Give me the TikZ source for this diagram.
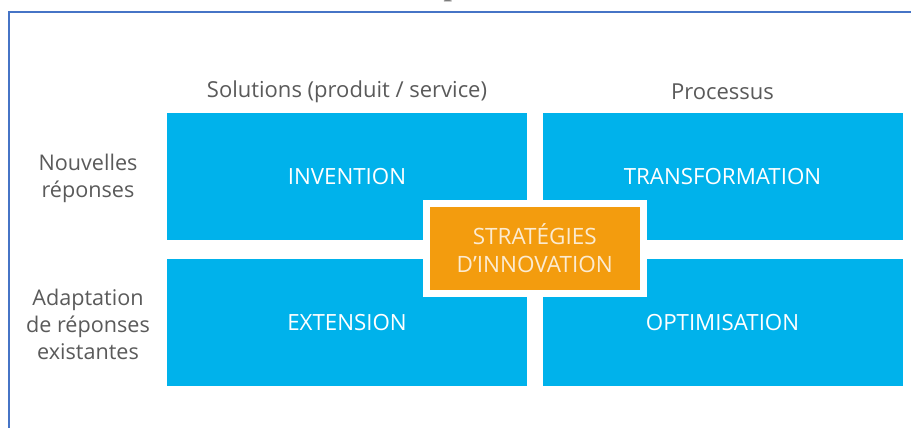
\documentclass[tikz,border=0pt]{standalone}
\usepackage{fontspec}
\setmainfont{Open Sans}
\newfontfamily\titlefont{Liberation Serif}
\definecolor{cellblue}{HTML}{00B2EB}
\definecolor{stratorange}{HTML}{F39C0E}
\definecolor{labelgray}{HTML}{5A5A5A}
\definecolor{framebl}{HTML}{4674C6}
\definecolor{ortext}{HTML}{FCEBD0}
\begin{document}
\begin{tikzpicture}[x=1pt,y=-1pt,
  cell/.style={fill=cellblue, draw=none, minimum width=360pt, minimum height=127pt,
    inner sep=0pt, text=white, font=\fontsize{22.3}{26}\selectfont, text depth=-2pt},
  strat/.style={fill=stratorange, draw=white, line width=7pt, minimum width=217.5pt,
    minimum height=90pt, inner sep=0pt, text=ortext, align=center,
    font=\fontsize{22.5}{28}\selectfont},
  hdr/.style={text=labelgray, font=\fontsize{22}{27}\selectfont, inner sep=0pt},
  rowlbl/.style={text=labelgray, font=\fontsize{21.6}{27}\selectfont, align=center, inner sep=0pt}]
\useasboundingbox (0,0) rectangle (911,428);
\fill[white] (0,0) rectangle (911,428);
% cut-off title glyph
\node[font=\titlefont\bfseries\fontsize{30}{30}\selectfont, text=labelgray!80, anchor=base, inner sep=0pt] (ttl) at (452,-4) {p};
% frame
\draw[framebl, line width=2pt] (940,460) -- (9,460) -- (9,12) -- (940,12);
% cells
\node[cell] (inv) at (347,176.5) {INVENTION};
\node[cell] (trf) at (722.5,176.5) {TRANSFORMATION};
\node[cell] (ext) at (347,322) {EXTENSION};
\node[cell] (opt) at (722.5,322) {OPTIMISATION};
\node[strat] (str) at (534.75,248.5) {STRATÉGIES\\D’INNOVATION};
% headers
\node[hdr] (h1) at (347,92) {Solutions (produit / service)};
\node[hdr] (h2) at (722.5,92) {Processus};
\node[rowlbl] (r1) at (88,178) {Nouvelles\\réponses};
\node[rowlbl] (r2) at (88,324) {Adaptation\\de réponses\\existantes};
\end{tikzpicture}
\end{document}
